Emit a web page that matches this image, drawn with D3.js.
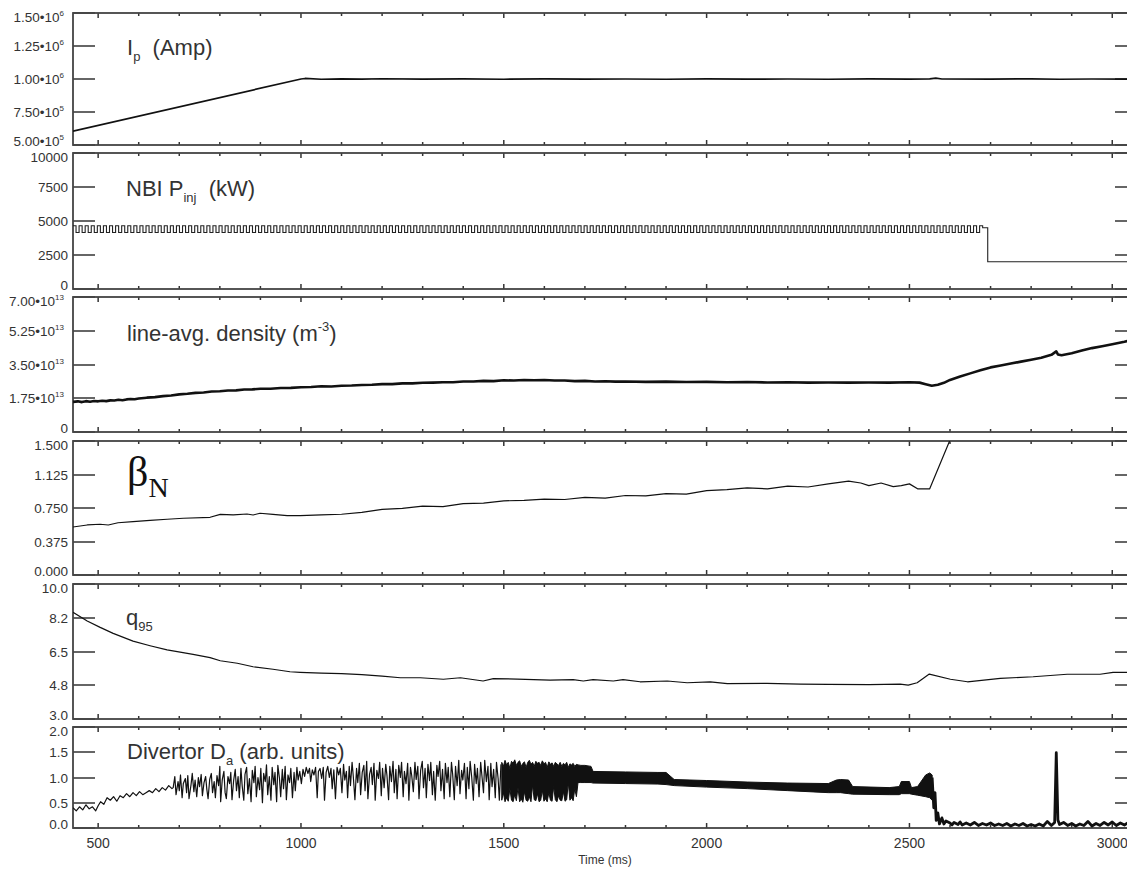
<!DOCTYPE html>
<html>
<head>
<meta charset="utf-8">
<script src="https://cdn.jsdelivr.net/npm/d3@7"></script>
<style>
body { margin: 0; background: #fff; }
svg { display: block; }
text { font-family: "Liberation Sans", Arial, Helvetica, sans-serif; fill: #333; }
</style>
</head>
<body>
<svg id="chart"></svg>
<script>
// ---- time axis
const timeDomain = [438, 3061]
const timeTicks = [500, 1000, 1500, 2000, 2500, 3000]

// ---- plasma current (A)
const ipData = [[438, 6.05e5], [1000, 1.0e6], [1010, 1.004e6], [1050, 0.998e6], [1100, 1.001e6], [1150, 0.999e6],
  [1200, 1.002e6], [1300, 0.999e6], [1400, 1.001e6], [1500, 0.998e6], [1600, 1.001e6], [1700, 0.999e6],
  [1800, 1.0e6], [1900, 0.998e6], [2000, 1.001e6], [2100, 0.999e6], [2200, 1.0e6], [2300, 0.998e6],
  [2400, 1.001e6], [2500, 0.999e6], [2550, 1.001e6], [2565, 1.007e6], [2580, 1.0e6], [2700, 0.999e6],
  [2800, 1.001e6], [2870, 0.998e6], [2950, 1.0e6], [3061, 0.999e6]]
const ipTicks = [5e5, 7.5e5, 1e6, 1.25e6, 1.5e6]
const ipTickText = [['5.00•10', '5'], ['7.50•10', '5'], ['1.00•10', '6'], ['1.25•10', '6'], ['1.50•10', '6']]

// ---- NBI injected power (kW), sampled every 7.5 ms from 438 ms, then the step down
const nbiT0 = 438, nbiDt = 7.5
const nbiKW = [
  4650,4150,4650,4150,4650,4150,4650,4150,4650,4150,4650,4150,4650,4150,4650,4150,4650,4150,4650,4150,
  4650,4150,4650,4150,4650,4150,4650,4150,4650,4150,4650,4150,4650,4150,4650,4150,4650,4150,4650,4150,
  4650,4150,4650,4150,4650,4150,4650,4150,4650,4150,4650,4150,4650,4150,4650,4150,4650,4150,4650,4150,
  4650,4150,4650,4150,4650,4150,4650,4150,4650,4150,4650,4150,4650,4150,4650,4150,4650,4150,4650,4150,
  4650,4150,4650,4150,4650,4150,4650,4150,4650,4150,4650,4150,4650,4150,4650,4150,4650,4150,4650,4150,
  4650,4150,4650,4150,4650,4150,4650,4150,4650,4150,4650,4150,4650,4150,4650,4150,4650,4150,4650,4150,
  4650,4150,4650,4150,4650,4150,4650,4150,4650,4150,4650,4150,4650,4150,4650,4150,4650,4150,4650,4150,
  4650,4150,4650,4150,4650,4150,4650,4150,4650,4150,4650,4150,4650,4150,4650,4150,4650,4150,4650,4150,
  4650,4150,4650,4150,4650,4150,4650,4150,4650,4150,4650,4150,4650,4150,4650,4150,4650,4150,4650,4150,
  4650,4150,4650,4150,4650,4150,4650,4150,4650,4150,4650,4150,4650,4150,4650,4150,4650,4150,4650,4150,
  4650,4150,4650,4150,4650,4150,4650,4150,4650,4150,4650,4150,4650,4150,4650,4150,4650,4150,4650,4150,
  4650,4150,4650,4150,4650,4150,4650,4150,4650,4150,4650,4150,4650,4150,4650,4150,4650,4150,4650,4150,
  4650,4150,4650,4150,4650,4150,4650,4150,4650,4150,4650,4150,4650,4150,4650,4150,4650,4150,4650,4150,
  4650,4150,4650,4150,4650,4150,4650,4150,4650,4150,4650,4150,4650,4150,4650,4150,4650,4150,4650,4150,
  4650,4150,4650,4150,4650,4150,4650,4150,4650,4150,4650,4150,4650,4150,4650,4150,4650,4150,4650,4500]
const nbiTail = [[2690, 4500], [2693, 2000], [3061, 2000]]
const nbiTicks = [0, 2500, 5000, 7500, 10000]
const nbiTickText = [['0'], ['2500'], ['5000'], ['7500'], ['10000']]

// ---- line-averaged density (1e13 m^-3)
const densData = [[438,1.56],[450,1.59],[460,1.55],[470,1.60],[480,1.57],[490,1.61],[500,1.59],[510,1.62],[520,1.60],
  [530,1.64],[540,1.63],[550,1.67],[560,1.65],[570,1.69],[580,1.71],[590,1.70],[600,1.74],[620,1.78],[640,1.81],
  [660,1.86],[680,1.89],[700,1.95],[720,1.98],[740,2.03],[760,2.05],[780,2.10],[800,2.11],[820,2.15],[840,2.16],
  [860,2.20],[880,2.21],[900,2.24],[925,2.24],[950,2.28],[975,2.29],[1000,2.32],[1025,2.33],[1050,2.37],[1075,2.36],
  [1100,2.40],[1125,2.41],[1150,2.44],[1175,2.45],[1200,2.48],[1225,2.48],[1250,2.52],[1275,2.52],[1300,2.55],
  [1325,2.56],[1350,2.58],[1375,2.58],[1400,2.62],[1425,2.62],[1450,2.65],[1475,2.64],[1500,2.68],[1525,2.67],
  [1550,2.70],[1575,2.68],[1600,2.70],[1625,2.67],[1650,2.67],[1675,2.64],[1700,2.65],[1725,2.62],[1750,2.63],
  [1775,2.61],[1800,2.62],[1850,2.60],[1900,2.61],[1950,2.59],[2000,2.60],[2050,2.58],[2100,2.59],[2150,2.57],
  [2200,2.58],[2250,2.56],[2300,2.57],[2350,2.56],[2400,2.57],[2450,2.56],[2500,2.58],[2525,2.56],[2540,2.48],
  [2555,2.40],[2570,2.45],[2585,2.55],[2600,2.70],[2625,2.88],[2650,3.04],[2675,3.20],[2700,3.35],[2725,3.45],
  [2750,3.55],[2775,3.65],[2800,3.75],[2825,3.85],[2850,4.00],[2862,4.18],[2866,4.02],[2875,3.98],[2900,4.08],
  [2925,4.22],[2950,4.35],[2975,4.45],[3000,4.55],[3030,4.68],[3061,4.85]]
const densTicks = [0, 1.75, 3.5, 5.25, 7]
const densTickText = [['0'], ['1.75•10', '13'], ['3.50•10', '13'], ['5.25•10', '13'], ['7.00•10', '13']]

// ---- normalised beta
const betaData = [[438,.537],[473,.560],[505,.568],[525,.560],[549,.585],[586,.597],[628,.612],[670,.624],[710,.635],
  [776,.646],[801,.679],[833,.672],[867,.683],[882,.672],[899,.691],[931,.679],[966,.664],[998,.664],[1050,.672],
  [1100,.680],[1150,.700],[1200,.735],[1250,.745],[1300,.770],[1350,.765],[1400,.800],[1450,.805],[1500,.830],
  [1550,.835],[1600,.850],[1650,.845],[1700,.870],[1750,.860],[1800,.890],[1850,.885],[1900,.910],[1950,.905],
  [2000,.945],[2050,.955],[2100,.975],[2150,.965],[2200,.995],[2250,.985],[2300,1.02],[2350,1.05],[2380,1.03],
  [2400,1.00],[2430,1.03],[2460,.99],[2480,1.00],[2500,1.02],[2520,.965],[2550,.965],[2610,1.62]]
const betaTicks = [0, 0.375, 0.75, 1.125, 1.5]
const betaTickText = [['0.000'], ['0.375'], ['0.750'], ['1.125'], ['1.500']]

// ---- q95
const qData = [[438,8.53],[473,8.08],[505,7.75],[537,7.44],[586,7.04],[628,6.80],[670,6.58],[695,6.49],[734,6.35],
  [776,6.18],[801,6.02],[843,5.89],[882,5.71],[931,5.58],[973,5.45],[998,5.42],[1050,5.38],[1100,5.35],[1150,5.30],
  [1200,5.22],[1245,5.14],[1294,5.14],[1351,5.06],[1393,5.14],[1449,4.97],[1474,5.09],[1533,5.07],[1614,5.02],
  [1671,5.04],[1696,4.97],[1720,5.04],[1770,4.97],[1794,5.04],[1836,4.93],[1903,4.97],[1952,4.88],[2009,4.92],
  [2051,4.83],[2149,4.85],[2231,4.81],[2300,4.80],[2400,4.78],[2477,4.81],[2497,4.76],[2519,4.88],[2549,5.33],
  [2601,5.06],[2643,4.93],[2724,5.11],[2805,5.19],[2889,5.32],[2970,5.32],[3002,5.42],[3061,5.42]]
const qTicks = [3, 4.75, 6.5, 8.25, 10]
const qTickText = [['3.0'], ['4.8'], ['6.5'], ['8.2'], ['10.0']]

// ---- divertor D-alpha (arb. units): trace up to the dense ELM band, the band envelope, then the trace after the drop
const daTrace = [[438,.40],[446,.34],[454,.42],[462,.36],[470,.46],[478,.38],[486,.42],[494,.34],[500,.44],[506,.52],
  [514,.47],[522,.60],[530,.55],[538,.62],[546,.53],[554,.64],[562,.60],[570,.68],[578,.62],[586,.70],[594,.64],
  [602,.72],[610,.66],[618,.70],[626,.74],[634,.70],[642,.78],[650,.72],[658,.80],[666,.75],[674,.84],[682,.78],
  [685,.80],[689,1.02],[692,.66],[697,.92],[700,.74],[703,1.05],[707,.60],[710,.88],[715,.98],[718,.70],[721,1.04],
  [724,.58],[729,.86],[732,1.08],[736,.72],[739,.95],[743,.62],[747,1.00],[750,.82],[754,1.06],[757,.64],[761,.90],
  [765,1.02],[768,.76],[771,.58],[775,.96],[779,1.08],[782,.70],[786,.92],[789,.60],[793,1.04],[797,.84],
  [800,1.22],[802,.52],[806,.96],[810,1.12],[813,.70],[816,.58],[820,1.02],[824,.88],[827,1.10],[830,.56],[834,.94],
  [838,1.16],[841,.74],[845,1.02],[848,.60],[852,1.18],[855,.84],[859,.55],[862,1.06],[866,1.20],[869,.68],[873,.98],
  [877,.52],[880,1.14],[884,.90],[887,1.22],[890,.62],[894,1.00],[898,.76],[901,1.18],[905,.50],[908,1.08],[912,.92],
  [915,1.25],[918,.66],[922,1.02],[926,.55],[929,1.20],[933,.86],[936,1.10],[940,.52],[943,1.24],[947,.98],[950,.62],
  [954,1.16],[957,.78],[961,1.22],[964,.56],[968,1.05],[972,.90],[975,1.18],[979,.60],[983,1.10],[986,.74],[990,1.20],
  [993,.95],[997,1.12],[1001,.88],[1005,1.16],[1009,1.02],[1013,1.20],[1017,1.08],[1021,1.18],[1024,.92],[1028,1.15],
  [1032,1.05],[1036,1.20],[1040,.60],[1043,1.12],[1047,1.18],[1051,.98],[1055,1.20],[1058,.55],[1062,1.10],[1066,1.22],
  [1070,1.00],[1074,1.18],[1077,.78],[1081,1.15],[1085,.58],[1089,1.20],[1093,1.05],[1097,1.18],[1101,.70],[1105,1.26],
  [1108,.95],[1112,1.12],[1115,.60],[1119,1.22],[1122,.84],[1126,1.30],[1129,1.02],[1133,.56],[1137,1.18],[1140,.90],
  [1144,1.28],[1147,.66],[1151,1.10],[1155,1.24],[1158,.74],[1162,1.32],[1165,.58],[1169,1.06],[1173,1.20],[1176,.86],
  [1180,1.28],[1183,.55],[1187,1.14],[1191,.98],[1194,1.30],[1198,.64],[1201,1.18],[1205,.80],[1209,1.26],[1212,1.04],
  [1216,.56],[1219,1.22],[1223,.92],[1227,1.32],[1230,.70],[1234,1.16],[1237,.58],[1241,1.24],[1245,1.00],[1248,1.30],
  [1252,.62],[1255,1.12],[1259,.88],[1263,1.28],[1266,.55],[1270,1.20],[1273,1.04],[1277,.72],[1281,1.30],[1284,.96],
  [1288,1.22],[1291,.58],[1295,1.14],[1299,1.32],[1302,.80],[1306,1.18],[1309,.60],[1313,1.26],[1317,.94],[1320,1.30],
  [1324,.66],[1327,1.12],[1331,.55],[1335,1.24],[1338,1.02],[1342,1.32],[1345,.74],[1349,1.16],[1353,.58],[1356,1.28],
  [1360,.90],[1363,1.20],[1367,.62],[1371,1.30],[1374,1.06],[1378,.56],[1381,1.22],[1385,.84],[1389,1.34],[1392,.68],
  [1396,1.14],[1399,.95],[1403,1.28],[1407,.58],[1410,1.20],[1414,.78],[1417,1.32],[1421,1.00],[1425,.55],[1428,1.26],
  [1432,.88],[1435,1.18],[1439,.62],[1443,1.30],[1446,1.04],[1450,.70],[1453,1.34],[1457,.92],[1461,1.22],[1464,.56],
  [1468,1.28],[1471,.82],[1475,1.16],[1479,.60],[1482,1.30],[1486,.98],[1489,.55],[1493,1.26]]
const bandT  = [1495,1499,1503,1507,1511,1515,1519,1523,1527,1531,1535,1539,1543,1547,1551,1555,1559,1563,1567,1571,
  1575,1579,1583,1587,1591,1595,1599,1603,1607,1611,1615,1619,1623,1627,1631,1635,1639,1643,1647,1651,1655,1659,1663,
  1667,1671,1675,1679,1683,1690,1700,1715,1720,1800,1880,1900,1920,2000,2100,2200,2300,2320,2330,2350,2360,2450,2475,
  2480,2500,2505,2520,2540,2550,2556]
const bandLo = [.55,.70,.52,.60,.53,.78,.55,.52,.66,.54,.80,.52,.58,.51,.72,.55,.53,.62,.52,.85,.56,.54,.68,.52,.55,.75,
  .53,.58,.52,.70,.55,.53,.82,.56,.52,.64,.55,.54,.72,.53,.56,.90,.55,.60,.54,.78,.62,
  .90,.90,.90,.90,.89,.88,.87,.86,.84,.81,.78,.74,.70,.70,.70,.68,.67,.66,.66,.68,.68,.67,.65,.62,.60,.55]
const bandHi = [1.30,1.22,1.34,1.25,1.30,1.18,1.32,1.28,1.35,1.24,1.30,1.33,1.22,1.28,1.31,1.20,1.30,1.34,1.26,1.30,1.22,
  1.32,1.28,1.30,1.24,1.33,1.27,1.30,1.20,1.31,1.26,1.29,1.22,1.30,1.27,1.24,1.30,1.22,1.28,1.25,1.30,1.20,1.27,1.25,
  1.28,1.22,1.26,
  1.25,1.24,1.24,1.22,1.12,1.11,1.10,1.10,0.96,0.94,0.91,0.89,0.88,0.95,0.96,0.95,0.82,0.80,0.82,0.92,0.92,0.80,0.82,
  1.05,1.09,1.05]
const daTail = [[2556,1.0],[2560,.40],[2563,.70],[2566,.15],[2570,.30],[2574,.08],[2580,.20],[2585,.08],[2590,.14],
  [2600,.10],[2605,.06],[2610,.11],[2620,.07],[2625,.12],[2630,.06],[2640,.10],[2650,.06],[2660,.11],[2670,.05],
  [2680,.09],[2690,.06],[2700,.10],[2710,.05],[2720,.08],[2730,.05],[2740,.09],[2750,.04],[2760,.08],[2770,.05],
  [2780,.09],[2790,.04],[2800,.07],[2810,.04],[2820,.08],[2830,.04],[2840,.13],[2850,.05],[2858,.11],[2862,1.49],
  [2866,.16],[2870,.07],[2880,.11],[2890,.05],[2900,.09],[2910,.04],[2920,.08],[2930,.05],[2940,.13],[2950,.04],
  [2960,.09],[2970,.05],[2980,.11],[2990,.06],[3000,.12],[3010,.05],[3020,.10],[3030,.06],[3040,.11],[3050,.05],[3061,.09]]
const daTicks = [0, 0.5, 1, 1.5, 2]
const daTickText = [['0.0'], ['0.5'], ['1.0'], ['1.5'], ['2.0']]

// ---- layout
const W = 1127, H = 870
const left = 73, right = 1137
const tops    = [13, 153, 297, 441, 584, 727]
const bottoms = [145, 289, 432, 575, 719, 828]

let svg = d3.select('#chart').attr('width', W).attr('height', H)
let x = d3.scaleLinear().domain(timeDomain).range([left, right])

let nbiData = nbiKW.map((v, i) => [nbiT0 + i * nbiDt, v]).concat(nbiTail)

let panels = [
  { domain: [5e5, 1.5e6], ticks: ipTicks, tickText: ipTickText,
    label: [['I', 'n'], ['p', 'sub'], ['  (Amp)', 'n']], lx: 127, ly: 55 },
  { domain: [0, 10000], ticks: nbiTicks, tickText: nbiTickText,
    label: [['NBI P', 'n'], ['inj', 'sub'], ['  (kW)', 'n']], lx: 126, ly: 196 },
  { domain: [0, 7], ticks: densTicks, tickText: densTickText,
    label: [['line-avg. density (m', 'n'], ['-3', 'sup'], [')', 'n']], lx: 127, ly: 341 },
  { domain: [0, 1.5], ticks: betaTicks, tickText: betaTickText, label: null },
  { domain: [3, 10], ticks: qTicks, tickText: qTickText,
    label: [['q', 'n'], ['95', 'sub']], lx: 126, ly: 625 },
  { domain: [0, 2], ticks: daTicks, tickText: daTickText,
    label: [['Divertor D', 'n'], ['a', 'sub'], [' (arb. units)', 'n']], lx: 127, ly: 759 }
]

let defs = svg.append('defs')
let frameG = svg.append('g').attr('id', 'frameG')
let dataG = svg.append('g').attr('id', 'dataG')

panels.forEach((p, i) => {
  let top = tops[i], bot = bottoms[i]
  p.y = d3.scaleLinear().domain(p.domain).range([bot, top])

  defs.append('clipPath').attr('id', 'clip' + i)
    .append('rect').attr('x', left).attr('y', top).attr('width', right - left).attr('height', bot - top)

  // y ticks, left and right
  p.ticks.forEach((t, k) => {
    let yy = Math.round(p.y(t))
    frameG.append('line').attr('x1', left).attr('x2', left + 22).attr('y1', yy).attr('y2', yy)
      .attr('stroke', '#666').attr('stroke-width', 2)
    frameG.append('line').attr('x1', right - 22).attr('x2', right).attr('y1', yy).attr('y2', yy)
      .attr('stroke', '#666').attr('stroke-width', 2)

    let parts = p.tickText[k]
    let cy = Math.min(Math.max(yy, top + 4), bot - 4)
    let txt = frameG.append('text')
      .attr('x', parts.length > 1 ? 64 : 68)
      .attr('y', cy + 5)
      .attr('text-anchor', 'end')
      .style('font-size', '13.5px')
    txt.append('tspan').text(parts[0])
    if (parts.length > 1) {
      txt.append('tspan').text(parts[1]).style('font-size', '8px').attr('dy', -6)
    }
  })

  // x minor/major ticks on top and bottom
  d3.range(500, 3001, 100).forEach(t => {
    let len = t % 500 === 0 ? 5 : 3
    let xx = x(t)
    frameG.append('line').attr('x1', xx).attr('x2', xx).attr('y1', top).attr('y2', top + len)
      .attr('stroke', '#333').attr('stroke-width', 1.5)
    frameG.append('line').attr('x1', xx).attr('x2', xx).attr('y1', bot).attr('y2', bot - len)
      .attr('stroke', '#333').attr('stroke-width', 1.5)
  })

  frameG.append('rect')
    .attr('x', left).attr('y', top).attr('width', right - left).attr('height', bot - top)
    .attr('fill', 'none').attr('stroke', '#444').attr('stroke-width', 1.8)

  // panel label
  if (p.label) {
    let lab = frameG.append('text').attr('x', p.lx).attr('y', p.ly)
      .attr('xml:space', 'preserve').style('white-space', 'pre').style('font-size', '22px')
    let off = 0
    p.label.forEach(([s, kind]) => {
      let target = kind === 'sub' ? 6 : kind === 'sup' ? -10 : 0
      lab.append('tspan').text(s)
        .attr('dy', target - off)
        .style('font-size', kind === 'n' ? '22px' : '13px')
      off = target
    })
  }
})

// beta_N label in serif
let bl = frameG.append('text').attr('x', 127).attr('y', 486)
  .style('font-family', '"Liberation Serif", "Times New Roman", serif').style('fill', '#111')
bl.append('tspan').text('β').style('font-size', '42px')
bl.append('tspan').text('N').style('font-size', '28px').attr('dy', 11)

// ---- data traces
function trace(i, data, width) {
  let p = panels[i]
  dataG.append('path')
    .datum(data)
    .attr('clip-path', `url(#clip${i})`)
    .attr('fill', 'none')
    .attr('stroke', '#111')
    .attr('stroke-width', width)
    .attr('stroke-linejoin', 'round')
    .attr('d', d3.line().x(d => x(d[0])).y(d => p.y(d[1])))
}

trace(0, ipData, 1.7)

dataG.append('path')
  .datum(nbiData)
  .attr('clip-path', 'url(#clip1)')
  .attr('fill', 'none').attr('stroke', '#222').attr('stroke-width', 1.1)
  .attr('d', d3.line().curve(d3.curveStepAfter).x(d => x(d[0])).y(d => panels[1].y(d[1])))

trace(2, densData, 2.6)
trace(3, betaData, 1.2)
trace(4, qData, 1.2)
trace(5, daTrace, 1.2)

let band = bandT.map((t, k) => [t, bandLo[k], bandHi[k]])
dataG.append('path')
  .datum(band)
  .attr('clip-path', 'url(#clip5)')
  .attr('fill', '#111').attr('stroke', '#111').attr('stroke-width', 1)
  .attr('d', d3.area().x(d => x(d[0])).y0(d => panels[5].y(d[1])).y1(d => panels[5].y(d[2])))

trace(5, daTail, 2.8)

// ---- bottom axis labels
let axG = svg.append('g').attr('id', 'axisLabels')
axG.selectAll('.xlab')
  .data(timeTicks)
  .enter().append('text')
  .attr('class', 'xlab')
  .attr('x', d => x(d))
  .attr('y', 848)
  .attr('text-anchor', 'middle')
  .style('font-size', '14px')
  .text(d => d)

axG.append('text')
  .attr('x', 605).attr('y', 864)
  .attr('text-anchor', 'middle')
  .style('font-size', '12px')
  .text('Time (ms)')
</script>
</body>
</html>
